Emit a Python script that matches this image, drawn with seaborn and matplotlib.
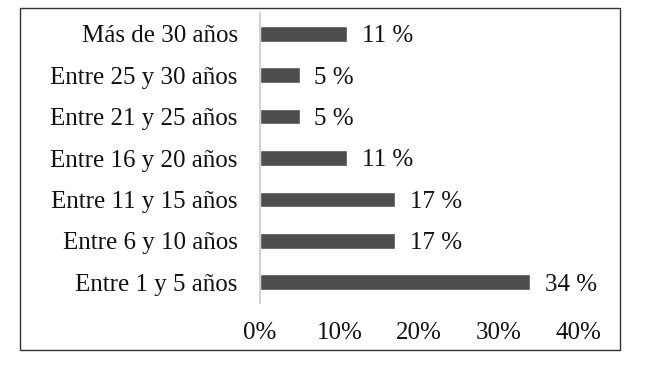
import matplotlib
matplotlib.use("Agg")
import matplotlib.pyplot as plt
import seaborn as sns
import pandas as pd
from matplotlib.patches import Rectangle

# 数据
categories = ["Más de 30 años", "Entre 25 y 30 años", "Entre 21 y 25 años",
              "Entre 16 y 20 años", "Entre 11 y 15 años", "Entre 6 y 10 años",
              "Entre 1 y 5 años"]
percent = [11, 5, 5, 11, 17, 17, 34]
xticks = [0, 10, 20, 30, 40]
xtick_labels = ["0%", "10%", "20%", "30%", "40%"]

sns.set_style("white")
plt.rcParams["font.family"] = ["Liberation Serif", "DejaVu Serif"]

df = pd.DataFrame({"cat": categories, "pct": percent})

fig = plt.figure(figsize=(6.5, 3.66), dpi=100)
ax = fig.add_axes([260 / 650, 1 - 303 / 366, (577 - 259) / 650, (303 - 13) / 366])

sns.barplot(data=df, y="cat", x="pct", order=categories, orient="h",
            color="#4d4d4d", saturation=1, width=0.38, ax=ax)

# 数值标签
for bar, v in zip(ax.patches, percent):
    ax.annotate(f"{v} %", xy=(bar.get_width(), bar.get_y() + bar.get_height() / 2),
                xytext=(10.5, 0), textcoords="offset points",
                ha="left", va="center_baseline", fontsize=18, color="#111111")

ax.set_xlim(0, 40)
ax.set_ylim(6.5, -0.5)
ax.set_xticks(xticks)
ax.set_xticklabels(xtick_labels)
ax.set_xlabel("")
ax.set_ylabel("")
ax.tick_params(axis="x", length=0, pad=14, labelsize=18, colors="#111111")
ax.tick_params(axis="y", length=0, pad=16, labelsize=18, colors="#111111")
for s in ["top", "right", "bottom"]:
    ax.spines[s].set_visible(False)
ax.spines["left"].set_color("#c8c8c8")
ax.spines["left"].set_linewidth(1.2)

# 外框
fig.patches.append(Rectangle((20 / 650, 1 - 350 / 366), 600 / 650, 342 / 366,
                             transform=fig.transFigure, fill=False,
                             edgecolor="#333333", linewidth=1.0))

fig.savefig("out.png", dpi=100)
